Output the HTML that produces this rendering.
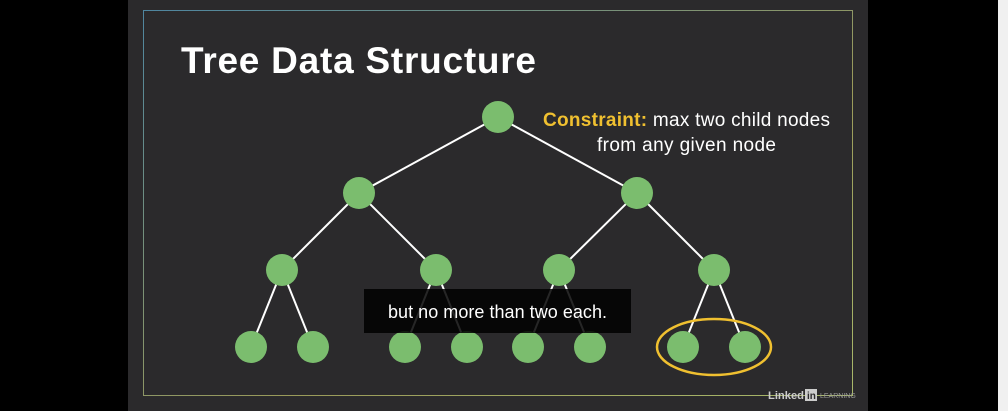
<!DOCTYPE html>
<html><head><style>
html,body{margin:0;padding:0;width:1008px;height:411px;overflow:hidden;background:#000;}
</style></head><body>
<svg width="1008" height="411" xmlns="http://www.w3.org/2000/svg" style="position:absolute;left:0;top:0">
<defs>
<linearGradient id="fr" x1="0" y1="0" x2="1" y2="1">
<stop offset="0" stop-color="#4f86a0"/><stop offset="0.6" stop-color="#9a9a5a"/><stop offset="1" stop-color="#a8b86a"/>
</linearGradient>
</defs>
<rect x="0" y="0" width="1008" height="411" fill="#000"/>
<rect x="998" y="0" width="10" height="411" fill="#f0f0f0"/>
<rect x="128" y="0" width="740" height="411" fill="#2b2a2c"/>
<rect x="143.5" y="10.5" width="709" height="385" fill="none" stroke="url(#fr)" stroke-width="1"/>
<text x="181" y="73" font-family="Liberation Sans, sans-serif" font-weight="bold" font-size="37" fill="#fff" textLength="355" lengthAdjust="spacing">Tree Data Structure</text>
<text x="543" y="126" font-family="Liberation Sans, sans-serif" font-size="19" fill="#fff" textLength="287" lengthAdjust="spacing"><tspan fill="#f0c030" font-weight="bold">Constraint:</tspan> max two child nodes</text>
<text x="597" y="151" font-family="Liberation Sans, sans-serif" font-size="19" fill="#fff" textLength="179" lengthAdjust="spacing">from any given node</text>
<g stroke="#fff" stroke-width="2">
<line x1="498" y1="117" x2="359" y2="193"/><line x1="498" y1="117" x2="637" y2="193"/>
<line x1="359" y1="193" x2="282" y2="270"/><line x1="359" y1="193" x2="436" y2="270"/>
<line x1="637" y1="193" x2="559" y2="270"/><line x1="637" y1="193" x2="714" y2="270"/>
<line x1="282" y1="270" x2="251" y2="347"/><line x1="282" y1="270" x2="313" y2="347"/>
<line x1="436" y1="270" x2="405" y2="347"/><line x1="436" y1="270" x2="467" y2="347"/>
<line x1="559" y1="270" x2="528" y2="347"/><line x1="559" y1="270" x2="590" y2="347"/>
<line x1="714" y1="270" x2="683" y2="347"/><line x1="714" y1="270" x2="745" y2="347"/>
</g>
<g fill="#7bbd6e">
<circle cx="498" cy="117" r="16"/>
<circle cx="359" cy="193" r="16"/><circle cx="637" cy="193" r="16"/>
<circle cx="282" cy="270" r="16"/><circle cx="436" cy="270" r="16"/><circle cx="559" cy="270" r="16"/><circle cx="714" cy="270" r="16"/>
<circle cx="251" cy="347" r="16"/><circle cx="313" cy="347" r="16"/><circle cx="405" cy="347" r="16"/><circle cx="467" cy="347" r="16"/>
<circle cx="528" cy="347" r="16"/><circle cx="590" cy="347" r="16"/><circle cx="683" cy="347" r="16"/><circle cx="745" cy="347" r="16"/>
</g>
<ellipse cx="714" cy="347" rx="57" ry="28" fill="none" stroke="#f0c030" stroke-width="2.5"/>
<rect x="364" y="289" width="267" height="44" fill="rgba(0,0,0,0.85)"/>
<text x="388" y="318" font-family="Liberation Sans, sans-serif" font-size="18" fill="#fff" textLength="219" lengthAdjust="spacing">but no more than two each.</text>
<text x="768" y="399" font-family="Liberation Sans, sans-serif" font-weight="bold" font-size="11" fill="#ccc" textLength="36" lengthAdjust="spacingAndGlyphs">Linked</text>
<rect x="805" y="389" width="12" height="12" fill="#ccc"/>
<text x="807" y="399" font-family="Liberation Sans, sans-serif" font-weight="bold" font-size="10" fill="#2b2a2c">in</text>
<text x="820" y="398" font-family="Liberation Sans, sans-serif" font-size="7" fill="#999">LEARNING</text>
</svg>
</body></html>
